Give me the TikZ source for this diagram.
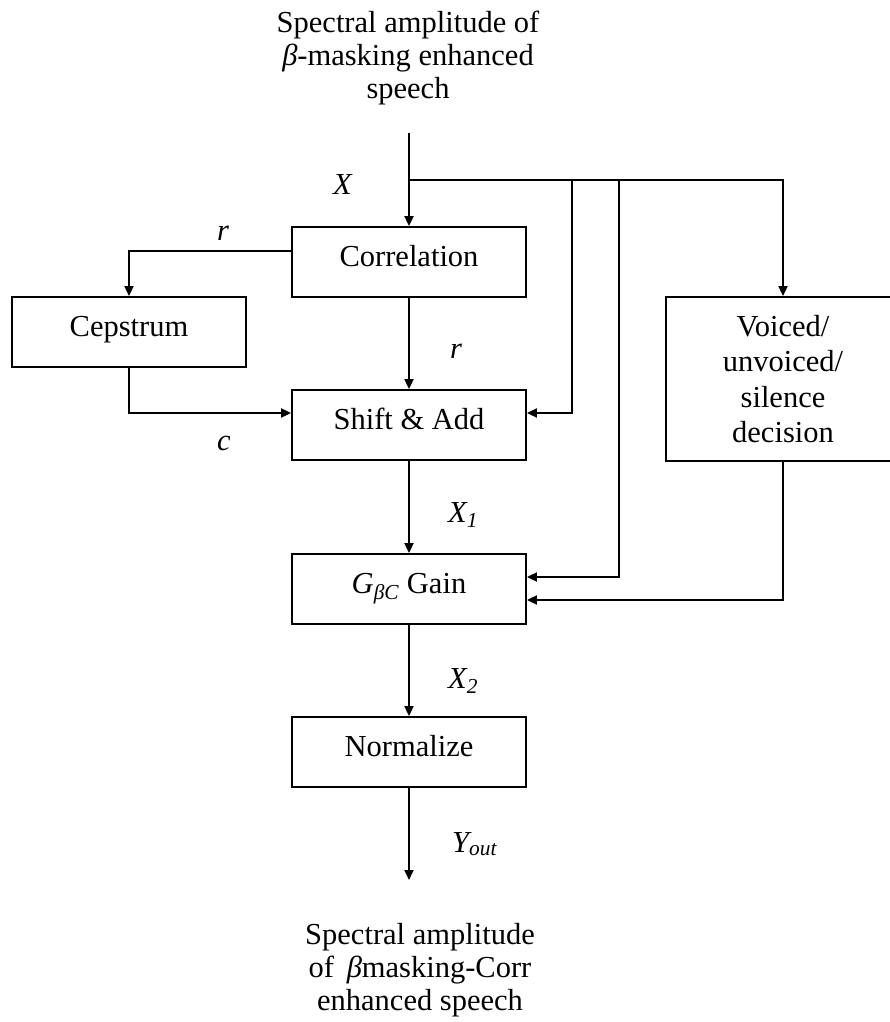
\documentclass[tikz,border=0pt]{standalone}
\usepackage{fontspec}
\setmainfont{Liberation Serif}
\usetikzlibrary{arrows.meta}
\newcommand{\diagfont}{\fontsize{30.5}{33}\selectfont}

\begin{document}
\begin{tikzpicture}[x=1pt, y=-1pt,
  blockbox/.style={draw, line width=1.8pt, minimum width=234pt, minimum height=70pt,
    inner sep=0pt, text height=15pt, text depth=7pt, font=\diagfont},
  arr/.style={line width=1.8pt, -{Triangle[length=10pt,width=9pt]}},
  lbl/.style={anchor=base west, inner sep=0pt, font=\diagfont\itshape}]
  \useasboundingbox (0,0) rectangle (890,1022);
  % input and output texts
  \node[align=center, font=\diagfont] (src) at (408,58)
    {Spectral amplitude of\\\textit{β}-masking enhanced\\speech};
  \node[align=center, font=\diagfont] (dst) at (420,970)
    {Spectral amplitude\\of \,\textit{β}masking-Corr\\enhanced speech};
  % blocks
  \node[blockbox] (corr) at (409,262) {Correlation};
  \node[blockbox] (ceps) at (129,332) {Cepstrum};
  \node[blockbox] (shift) at (409,425) {Shift \& Add};
  \node[blockbox] (gain) at (409,589) {\textit{G}\textsubscript{\textit{βC}} Gain};
  \node[blockbox] (norm) at (409,752) {Normalize};
  \node[draw, line width=1.8pt, minimum width=234pt, minimum height=164pt, inner sep=0pt,
    align=center, font=\fontsize{30.5}{35.5}\selectfont] (vuv) at (783,379)
    {Voiced/\\unvoiced/\\silence\\decision};
  % branch points
  \coordinate (in) at (409,133);
  \coordinate (split) at (409,180);
  \coordinate (tapa) at (572,180);
  \coordinate (tapb) at (619,180);
  \coordinate (out) at (409,880);
  % connectors
  \draw[arr] (in) -- (corr.north);
  \draw[arr] (split) -| (vuv.north);
  \draw[arr] ([yshift=11pt]corr.west) -| (ceps.north);
  \draw[arr] (corr.south) -- (shift.north);
  \draw[arr] (ceps.south) |- ([yshift=12pt]shift.west);
  \draw[arr] (tapa) |- ([yshift=12pt]shift.east);
  \draw[arr] (shift.south) -- (gain.north);
  \draw[arr] (tapb) |- ([yshift=12pt]gain.east);
  \draw[arr] (vuv.south) |- ([yshift=-11pt]gain.east);
  \draw[arr] (gain.south) -- (norm.north);
  \draw[arr] (norm.south) -- (out);
  % signal labels
  \node[lbl] (xlbl) at (333,194) {X};
  \node[lbl] (rtop) at (217,240) {r};
  \node[lbl] (rmid) at (450,358) {r};
  \node[lbl] (clbl) at (217,450) {c};
  \node[lbl] (xone) at (448,522) {X\textsubscript{1}};
  \node[lbl] (xtwo) at (448,688) {X\textsubscript{2}};
  \node[lbl] (yout) at (452,852) {Y\textsubscript{out}};
\end{tikzpicture}
\end{document}
